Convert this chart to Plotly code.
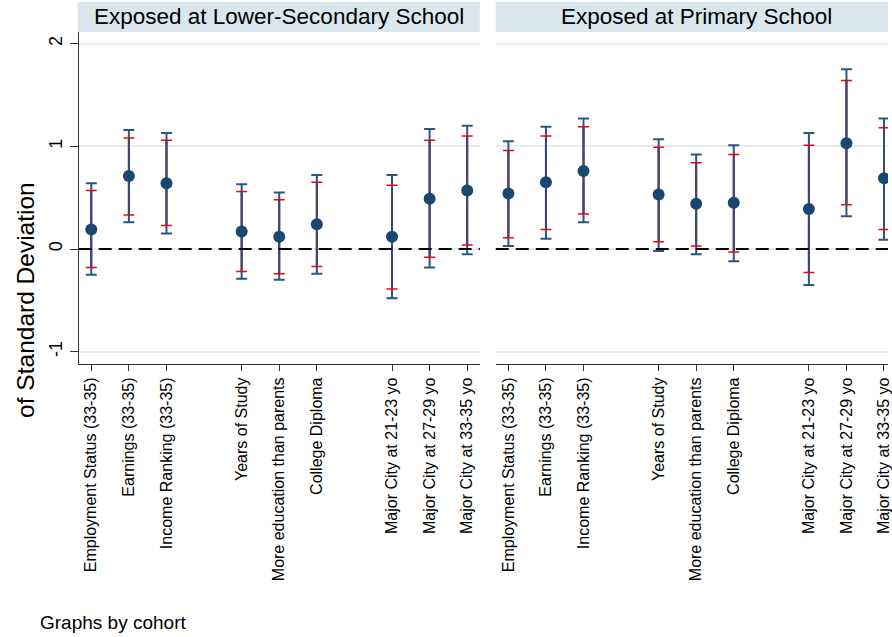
import plotly.graph_objects as go

# Outcome labels and their positions on the categorical axis (gaps separate groups)
outcomes = [
    "Employment Status (33-35)", "Earnings (33-35)", "Income Ranking (33-35)",
    "Years of Study", "More education than parents", "College Diploma",
    "Major City at 21-23 yo", "Major City at 27-29 yo", "Major City at 33-35 yo",
]
cat_pos = [1, 2, 3, 5, 6, 7, 9, 10, 11]

panels = ["Exposed at Lower-Secondary School", "Exposed at Primary School"]

# Point estimates (in standard deviations)
coef_lower = [0.19, 0.71, 0.64, 0.17, 0.12, 0.24, 0.12, 0.49, 0.57]
coef_primary = [0.54, 0.65, 0.76, 0.53, 0.44, 0.45, 0.39, 1.03, 0.69]

# 95% confidence bounds
ci95_lo_lower = [-0.25, 0.26, 0.15, -0.29, -0.30, -0.24, -0.48, -0.18, -0.05]
ci95_hi_lower = [0.64, 1.16, 1.13, 0.63, 0.55, 0.72, 0.72, 1.17, 1.20]
ci95_lo_primary = [0.03, 0.10, 0.26, -0.02, -0.05, -0.12, -0.35, 0.32, 0.09]
ci95_hi_primary = [1.05, 1.19, 1.27, 1.07, 0.92, 1.01, 1.13, 1.75, 1.27]

# 90% confidence bounds
ci90_lo_lower = [-0.18, 0.33, 0.23, -0.22, -0.24, -0.17, -0.39, -0.08, 0.04]
ci90_hi_lower = [0.57, 1.08, 1.06, 0.56, 0.48, 0.65, 0.62, 1.06, 1.10]
ci90_lo_primary = [0.11, 0.19, 0.34, 0.07, 0.03, -0.03, -0.23, 0.43, 0.19]
ci90_hi_primary = [0.96, 1.10, 1.19, 0.99, 0.84, 0.92, 1.01, 1.64, 1.18]

y_ticks = [-1, 0, 1, 2]

W, H = 892, 637
NAVY = "#1a476f"
BAR_BLUE = "#2b5680"
RED = "#ff0000"
STRIP = "#dae6ec"
FONT = "Liberation Sans, Arial, sans-serif"


def px_x(p):
    return p / W


def px_y(p):
    return 1 - p / H


fig = go.Figure()

series = [
    (coef_lower, ci95_lo_lower, ci95_hi_lower, ci90_lo_lower, ci90_hi_lower, "x", "y"),
    (coef_primary, ci95_lo_primary, ci95_hi_primary, ci90_lo_primary, ci90_hi_primary, "x2", "y2"),
]

for coef, lo95, hi95, lo90, hi90, xa, ya in series:
    # 95% interval
    fig.add_trace(go.Scatter(
        x=cat_pos, y=coef, mode="markers", xaxis=xa, yaxis=ya,
        marker=dict(size=0.1, color="rgba(0,0,0,0)"),
        error_y=dict(type="data", symmetric=False,
                     array=[h - c for h, c in zip(hi95, coef)],
                     arrayminus=[c - l for l, c in zip(lo95, coef)],
                     color=BAR_BLUE, thickness=2, width=5.5),
        showlegend=False, hoverinfo="skip",
    ))
    # 90% interval
    fig.add_trace(go.Scatter(
        x=cat_pos, y=coef, mode="markers", xaxis=xa, yaxis=ya,
        marker=dict(size=0.1, color="rgba(0,0,0,0)"),
        error_y=dict(type="data", symmetric=False,
                     array=[h - c for h, c in zip(hi90, coef)],
                     arrayminus=[c - l for l, c in zip(lo90, coef)],
                     color=RED, thickness=1.5, width=5.5),
        showlegend=False, hoverinfo="skip",
    ))
    # vertical spine redrawn over the red bar
    fig.add_trace(go.Scatter(
        x=cat_pos, y=coef, mode="markers", xaxis=xa, yaxis=ya,
        marker=dict(size=0.1, color="rgba(0,0,0,0)"),
        error_y=dict(type="data", symmetric=False,
                     array=[h - c for h, c in zip(hi90, coef)],
                     arrayminus=[c - l for l, c in zip(lo90, coef)],
                     color="#3b4775", thickness=2, width=0),
        showlegend=False, hoverinfo="skip",
    ))
    # point estimates
    fig.add_trace(go.Scatter(
        x=cat_pos, y=coef, mode="markers", xaxis=xa, yaxis=ya,
        marker=dict(size=12, color=NAVY),
        showlegend=False, hoverinfo="skip",
    ))

y_dom = [px_y(364), px_y(32)]
y_rng = [(249 - 364) / 102.67, (249 - 32) / 102.67]
x_rng_left = [0.664, 11.336]
x_rng_right = [0.664, 0.664 + (892 - 498) / 37.73]

xaxis_common = dict(
    tickmode="array", tickvals=cat_pos, ticktext=outcomes, tickangle=-90,
    tickfont=dict(family=FONT, size=16, color="black"),
    ticks="outside", ticklen=6, tickcolor="#333333", tickwidth=1,
    showline=True, linecolor="#333333", linewidth=1.2,
    showgrid=False, zeroline=False, fixedrange=True,
    ticklabeloverflow="allow",
)
fig.update_layout(
    width=W, height=H,
    margin=dict(l=0, r=0, t=0, b=0),
    paper_bgcolor="white", plot_bgcolor="white",
    xaxis=dict(domain=[px_x(79), px_x(482)], range=x_rng_left, anchor="y", **xaxis_common),
    xaxis2=dict(domain=[px_x(498), 1.0], range=x_rng_right, anchor="y2", **xaxis_common),
    yaxis=dict(
        domain=y_dom, range=y_rng, anchor="x",
        tickmode="array", tickvals=y_ticks, ticktext=[str(v) for v in y_ticks],
        tickangle=-90, tickfont=dict(family=FONT, size=18, color="black"),
        ticks="outside", ticklen=8, tickcolor="#333333",
        showline=True, linecolor="#333333", linewidth=1.2,
        showgrid=True, gridcolor="#e6eef1", gridwidth=1.5, zeroline=False,
    ),
    yaxis2=dict(
        domain=y_dom, range=y_rng, anchor="x2",
        tickvals=y_ticks, showticklabels=False, ticks="",
        showline=False, showgrid=True, gridcolor="#e6eef1", gridwidth=1.5, zeroline=False,
    ),
)

# reference line at zero in each panel
for xref in ["x domain", "x2 domain"]:
    fig.add_shape(type="line", xref=xref, yref="y" if xref == "x domain" else "y2",
                  x0=0, x1=1, y0=0, y1=0,
                  line=dict(color="black", width=1.8, dash="13px,7px"))

# panel header strips
strips = [(78, 482, 280, panels[0]), (498, 892, 700, panels[1])]
for x0, x1, xc, label in strips:
    fig.add_shape(type="rect", xref="paper", yref="paper",
                  x0=px_x(x0), x1=px_x(x1), y0=px_y(32), y1=px_y(2),
                  fillcolor=STRIP, line=dict(width=0), layer="below")
    fig.add_annotation(xref="paper", yref="paper", x=px_x(xc), y=px_y(17),
                       text=label, showarrow=False, xanchor="center", yanchor="middle",
                       font=dict(family=FONT, size=22.5, color="black"))

# y-axis title (second line of the wrapped title)
fig.add_annotation(xref="paper", yref="paper", x=px_x(25), y=px_y(300),
                   text="of Standard Deviation", textangle=-90, showarrow=False,
                   xanchor="center", yanchor="middle",
                   font=dict(family=FONT, size=24.5, color="black"))

fig.add_annotation(xref="paper", yref="paper", x=px_x(38), y=px_y(622),
                   text="Graphs by cohort", showarrow=False,
                   xanchor="left", yanchor="middle",
                   font=dict(family=FONT, size=19, color="black"))

fig.write_html("out.html")
